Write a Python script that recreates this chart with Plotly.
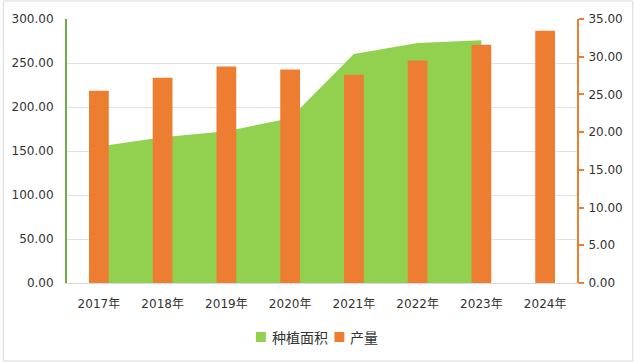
import plotly.graph_objects as go

categories = ["2017年", "2018年", "2019年", "2020年", "2021年", "2022年", "2023年", "2024年"]
area_name = "种植面积"
area_values = [155.0, 165.7, 172.5, 187.3, 260.2, 272.7, 275.8]
bar_name = "产量"
bar_values = [25.5, 27.2, 28.7, 28.3, 27.6, 29.5, 31.6, 33.45]

GREEN = "#92D050"
ORANGE = "#ED7D31"

W, H = 635, 362
L, R, T, B = 65, 57, 19, 79
pw = W - L - R
ph = H - T - B

fig = go.Figure()
fig.add_trace(go.Scatter(
    x=categories[:len(area_values)], y=area_values, name=area_name,
    mode="none", fill="tozeroy", fillcolor=GREEN,
    yaxis="y", showlegend=False,
))
fig.add_trace(go.Bar(
    x=categories, y=bar_values, name=bar_name,
    marker=dict(color=ORANGE, line=dict(width=0)),
    width=0.31, yaxis="y2", showlegend=False,
))

font = dict(family="DejaVu Sans, Noto Sans CJK SC, sans-serif", size=12, color="#333333")
fig.update_layout(
    width=W, height=H,
    margin=dict(l=L, r=R, t=T, b=B),
    paper_bgcolor="white", plot_bgcolor="white",
    font=font,
    showlegend=False,
    xaxis=dict(type="category", range=[-0.5, 7.5], showgrid=False,
               showline=True, linecolor="#D9D9D9", linewidth=1,
               ticks="", tickfont=font, ticklabelstandoff=10),
    yaxis=dict(range=[0, 300], dtick=50, tickformat=".2f",
               showgrid=True, gridcolor="#E0E0E0", gridwidth=1,
               showline=True, linecolor="#70AD47", linewidth=2,
               ticks="", zeroline=False, tickfont=font, ticklabelstandoff=9),
    yaxis2=dict(range=[0, 35], dtick=5, tickformat=".2f", overlaying="y", side="right",
                showgrid=False, showline=True, linecolor=ORANGE, linewidth=2,
                ticks="outside", ticklen=5, tickwidth=2, tickcolor=ORANGE,
                zeroline=False, tickfont=font, ticklabelstandoff=2),
    barmode="overlay",
)

def px_x(x):
    return (x - L) / pw

def px_y(y):
    return (H - B - y) / ph

# outer border
fig.add_shape(type="rect", xref="paper", yref="paper",
              x0=px_x(1), x1=px_x(W - 1), y0=px_y(H - 1), y1=px_y(1),
              line=dict(color="#D9D9D9", width=1), fillcolor="rgba(0,0,0,0)", layer="below")

# legend (manual, to match the compact Excel-style layout)
legend_items = [(area_name, GREEN, 255), (bar_name, ORANGE, 334)]
for name, color, x0 in legend_items:
    fig.add_shape(type="rect", xref="paper", yref="paper",
                  x0=px_x(x0), x1=px_x(x0 + 10), y0=px_y(342), y1=px_y(332),
                  line=dict(width=0), fillcolor=color)
    fig.add_annotation(xref="paper", yref="paper", x=px_x(x0 + 14), y=px_y(337),
                       text=name, showarrow=False, xanchor="left", yanchor="middle",
                       font=dict(family="Noto Sans CJK SC, sans-serif", size=14, color="#333333"))

fig.write_html("out.html")
